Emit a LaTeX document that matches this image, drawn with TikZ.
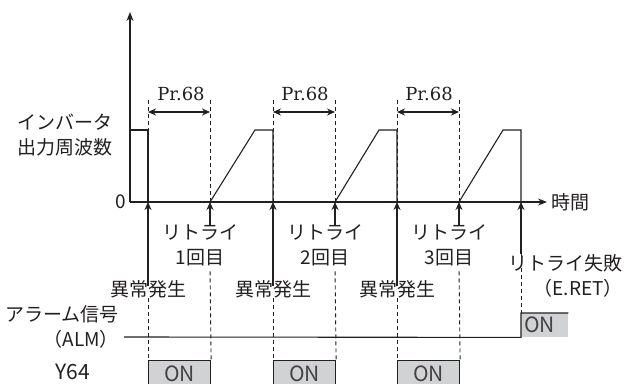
\documentclass[tikz,border=0pt]{standalone}
\usepackage{fontspec}
\newfontfamily\jpfont{Noto Sans CJK JP}
\newfontfamily\prfont{DejaVu Serif}
\usetikzlibrary{arrows.meta}
\definecolor{ink}{HTML}{231F20}
\definecolor{onfill}{HTML}{D1D2D4}

\begin{document}
\begin{tikzpicture}[x=1pt, y=-1pt,
    axisline/.style={line width=1.2pt, draw=ink, -{Stealth[length=9pt,width=7pt]}},
    wave/.style={line width=1.1pt, draw=ink},
    guide/.style={line width=0.9pt, draw=ink, dash pattern=on 4pt off 3pt},
    event/.style={line width=1.1pt, draw=ink, -{Stealth[length=8pt,width=7pt]}},
    prspan/.style={line width=1.1pt, draw=ink,
      {Stealth[length=8pt,width=7pt]}-{Stealth[length=8pt,width=7pt]}},
    jp/.style={font=\jpfont\fontsize{19}{25}\selectfont, text=ink,
      inner sep=0pt, align=center},
    prlabel/.style={font=\prfont\fontsize{18}{22}\selectfont, text=ink, inner sep=0pt},
    onbox/.style={fill=onfill, draw=ink, line width=1.1pt,
      font=\jpfont\fontsize{21}{22}\selectfont, text=ink!85,
      minimum width=62pt, minimum height=26pt, anchor=north west},
    signal/.style={line width=1.1pt, draw=ink}
  ]
  \useasboundingbox (0,0) rectangle (624,383);

  % time points on the axis
  \coordinate (o)  at (130,202);
  \coordinate (f1) at (148,202);
  \coordinate (r1) at (210,202);
  \coordinate (f2) at (273,202);
  \coordinate (r2) at (335,202);
  \coordinate (f3) at (397,202);
  \coordinate (r3) at (459,202);
  \coordinate (rf) at (521,202);

  % guides above the axis
  \draw[guide] (f1) -- ([yshift=102pt]f1);
  \draw[guide] (r1) -- ([yshift=102pt]r1);
  \draw[guide] (f2) -- ([yshift=102pt]f2);
  \draw[guide] (r2) -- ([yshift=102pt]r2);
  \draw[guide] (f3) -- ([yshift=102pt]f3);
  \draw[guide] (r3) -- ([yshift=102pt]r3);

  \draw[axisline] (o) -- (130,12);
  \draw[axisline] (o) -- (547,202);

  \node[jp, anchor=west, align=left] (freq) at (17,135.5) {インバータ\\出力周波数};
  \node[jp, anchor=east] (zero) at (126,202) {0};
  \node[jp, anchor=west] (time) at (551,202) {時間};

  % output frequency
  \draw[wave] (130,130) -- (148,130) -- (f1);
  \draw[wave] (r1) -- (255,130) -- (273,130) -- (f2);
  \draw[wave] (r2) -- (379,130) -- (397,130) -- (f3);
  \draw[wave] (r3) -- (503,130) -- (521,130) -- (rf);

  % Pr.68 waiting times
  \node[prlabel] (pr1) at (181,94) {Pr.68};
  \node[prlabel] (pr2) at (305,94) {Pr.68};
  \node[prlabel] (pr3) at (429,94) {Pr.68};
  \draw[prspan] ([yshift=90pt]f1) -- ([yshift=90pt]r1);
  \draw[prspan] ([yshift=90pt]f2) -- ([yshift=90pt]r2);
  \draw[prspan] ([yshift=90pt]f3) -- ([yshift=90pt]r3);

  % events below the axis
  \node[jp] (fault1) at (148,289) {異常発生};
  \node[jp] (fault2) at (273,289) {異常発生};
  \node[jp] (fault3) at (397,289) {異常発生};
  \node[jp] (retry1) at (200,245.5) {リトライ\\1回目};
  \node[jp] (retry2) at (325,245.5) {リトライ\\2回目};
  \node[jp] (retry3) at (449,245.5) {リトライ\\3回目};
  \node[jp, anchor=east, align=right] (fail) at (623,276)
    {リトライ失敗\\（E.RET）};

  \draw[event, shorten <=-6pt] (fault1.north) -- (f1);
  \draw[event, shorten <=-6pt] (fault2.north) -- (f2);
  \draw[event, shorten <=-6pt] (fault3.north) -- (f3);
  \draw[event] (retry1.north -| r1) -- (r1);
  \draw[event] (retry2.north -| r2) -- (r2);
  \draw[event] (retry3.north -| r3) -- (r3);
  \draw[event] (fail.north -| rf) -- (rf);

  % alarm and Y64 signals
  \node[jp, anchor=east, align=right] (alarm) at (119,326.5)
    {アラーム信号\\（ALM）};
  \node[jp, anchor=east, font=\jpfont\fontsize{21}{22}\selectfont] (y64) at (90,372) {Y64};
  \coordinate (almstart) at (124,337);

  \node[onbox] (on1) at (148,360) {ON};
  \node[onbox] (on2) at (273,360) {ON};
  \node[onbox] (on3) at (397,360) {ON};
  \node[fill=onfill, anchor=north west, inner xsep=3pt, inner ysep=0pt,
    text width=41pt, align=left, minimum height=24pt,
    font=\jpfont\fontsize{21}{22}\selectfont, text=ink!85] (alarmon) at (521,313) {ON};
  \draw[signal] (almstart) -- (alarmon.south west) -- (alarmon.north west)
    -- (alarmon.north east);

  \draw[guide] (fault1.south -| f1) -- (on1.north west);
  \draw[guide] (fault2.south -| f2) -- (on2.north west);
  \draw[guide] (fault3.south -| f3) -- (on3.north west);
  \draw[guide, shorten <=5pt] (retry1.south -| r1) -- (on1.north east);
  \draw[guide, shorten <=5pt] (retry2.south -| r2) -- (on2.north east);
  \draw[guide, shorten <=5pt] (retry3.south -| r3) -- (on3.north east);
  \draw[guide] (fail.north -| rf) -- (alarmon.north west);

\end{tikzpicture}
\end{document}
